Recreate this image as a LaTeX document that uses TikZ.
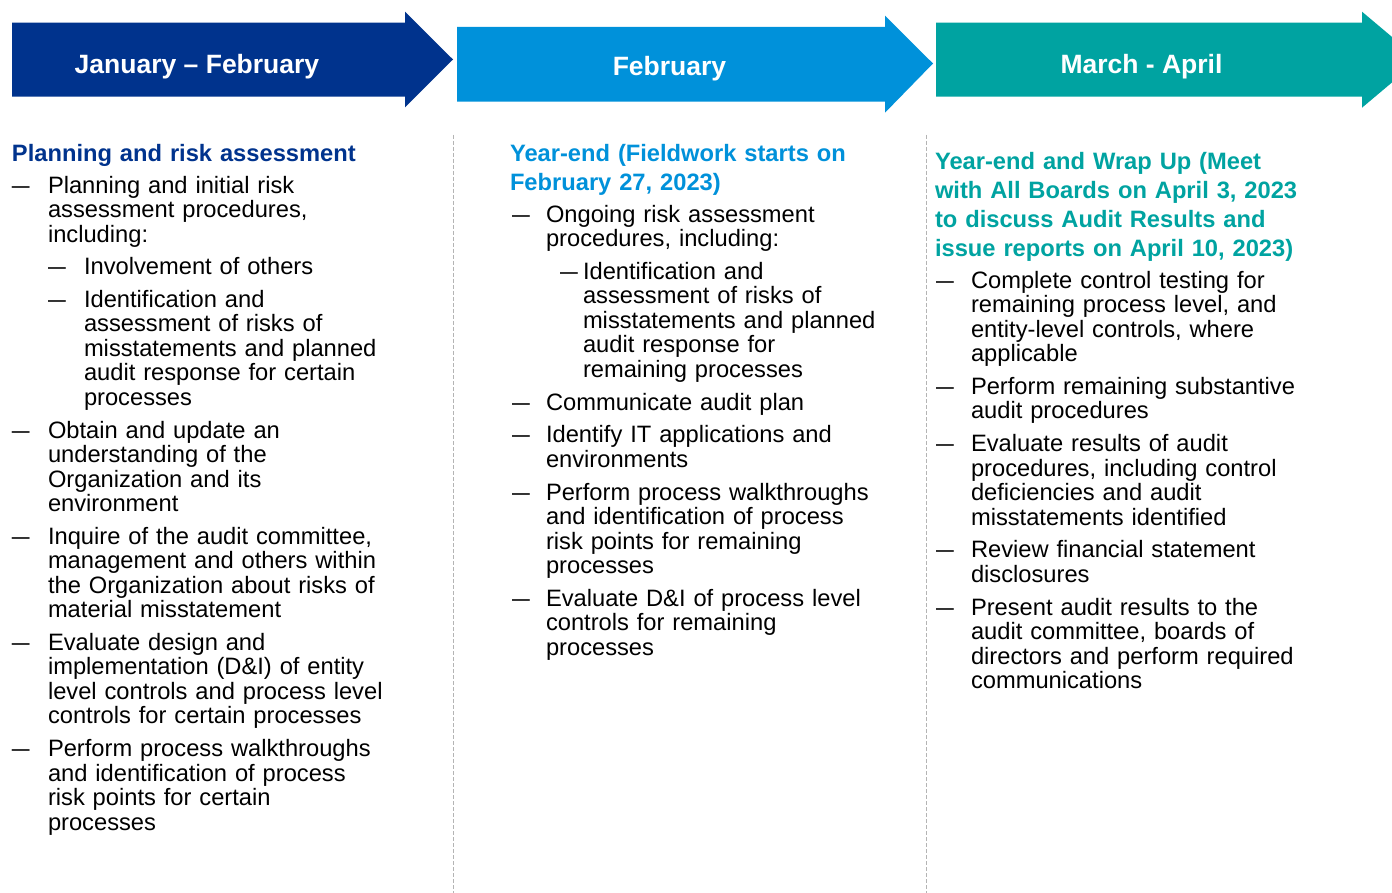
\documentclass[tikz,border=0pt]{standalone}
\usepackage{fontspec}
\setmainfont{Liberation Sans}
\definecolor{kdark}{HTML}{00338D}
\definecolor{kblue}{HTML}{0091DA}
\definecolor{kteal}{HTML}{00A3A1}
\definecolor{sepgray}{HTML}{B4B4B4}
\tikzset{
  body/.style={anchor=base west, inner sep=0pt, outer sep=0pt, text width=#1, align=left,
    font=\fontsize{23.7}{24.5}\selectfont, text=black},
  body/.default=420pt,
  head/.style={anchor=base west, inner sep=0pt, outer sep=0pt, text width=440pt, align=left,
    font=\fontsize{23.7}{28.8}\selectfont\bfseries},
  bul/.style={anchor=base west, inner sep=0pt, outer sep=0pt, font=\fontsize{23.7}{24.5}\selectfont},
  arrtext/.style={anchor=base, inner sep=0pt, text=white, font=\fontsize{26.5}{30}\selectfont\bfseries},
  sep/.style={draw=sepgray, line width=1.2pt, dash pattern=on 4pt off 2pt},
}
\newcommand{\dsh}{\scalebox{0.75}[1]{—}}
\begin{document}
\begin{tikzpicture}[x=1pt,y=-1pt]
\clip (0,0) rectangle (1392,893);
\fill[white] (0,0) rectangle (1392,893);
% arrows
\fill[kdark] (12,22.7) -- (405,22.7) -- (405,11.7) -- (453,59.5) -- (405,107.3) -- (405,96.7) -- (12,96.7) -- cycle;
\fill[kblue] (457,27) -- (885,27) -- (885,15.7) -- (933,63.5) -- (885,112.7) -- (885,101.7) -- (457,101.7) -- cycle;
\fill[kteal] (936,22.7) -- (1362,22.7) -- (1362,11.7) -- (1419,59.7) -- (1362,107.7) -- (1362,96.7) -- (936,96.7) -- cycle;
\node[arrtext] (t1) at (197,74) {January – February};
\node[arrtext] (t2) at (669.5,76) {February};
\node[arrtext] (t3) at (1141.5,74) {March - April};
% separators
\coordinate (s1a) at (453.5,135);
\coordinate (s1b) at (453.5,893);
\coordinate (s2a) at (926.5,135);
\coordinate (s2b) at (926.5,893);
\draw[sep] (s1a) -- (s1b);
\draw[sep] (s2a) -- (s2b);
% column 1
\node[head, text=kdark] (h1) at (12,161.5) {Planning and risk assessment};
\node[bul] (b1a) at (12,193.3) {\dsh};
\node[body] (i1a) at (48,193.3) {Planning and initial risk\\assessment procedures,\\including:};
\node[bul] (b1as1) at (48,275) {\dsh};
\node[body] (i1as1) at (84,275) {Involvement of others};
\node[bul] (b1as2) at (48,307.3) {\dsh};
\node[body] (i1as2) at (84,307.3) {Identification and\\assessment of risks of\\misstatements and planned\\audit response for certain\\processes};
\node[bul] (b1b) at (12,438) {\dsh};
\node[body] (i1b) at (48,438) {Obtain and update an\\understanding of the\\Organization and its\\environment};
\node[bul] (b1c) at (12,544.2) {\dsh};
\node[body] (i1c) at (48,544.2) {Inquire of the audit committee,\\management and others within\\the Organization about risks of\\material misstatement};
\node[bul] (b1d) at (12,650.4) {\dsh};
\node[body] (i1d) at (48,650.4) {Evaluate design and\\implementation (D\&I) of entity\\level controls and process level\\controls for certain processes};
\node[bul] (b1e) at (12,756.6) {\dsh};
\node[body] (i1e) at (48,756.6) {Perform process walkthroughs\\and identification of process\\risk points for certain\\processes};
% column 2
\node[head, text=kblue] (h2) at (510,161.5) {Year-end (Fieldwork starts on\\February 27, 2023)};
\node[bul] (b2a) at (512,222.3) {\dsh};
\node[body] (i2a) at (546,222.3) {Ongoing risk assessment\\procedures, including:};
\node[bul] (b2as1) at (560,279.5) {\dsh};
\node[body] (i2as1) at (583,279.5) {Identification and\\assessment of risks of\\misstatements and planned\\audit response for\\remaining processes};
\node[bul] (b2b) at (512,410.2) {\dsh};
\node[body] (i2b) at (546,410.2) {Communicate audit plan};
\node[bul] (b2c) at (512,442.9) {\dsh};
\node[body] (i2c) at (546,442.9) {Identify IT applications and\\environments};
\node[bul] (b2d) at (512,500.1) {\dsh};
\node[body] (i2d) at (546,500.1) {Perform process walkthroughs\\and identification of process\\risk points for remaining\\processes};
\node[bul] (b2e) at (512,606.3) {\dsh};
\node[body] (i2e) at (546,606.3) {Evaluate D\&I of process level\\controls for remaining\\processes};
% column 3
\node[head, text=kteal] (h3) at (935,170) {Year-end and Wrap Up (Meet\\with All Boards on April 3, 2023\\to discuss Audit Results and\\issue reports on April 10, 2023)};
\node[bul] (b3a) at (936,288.2) {\dsh};
\node[body] (i3a) at (971,288.2) {Complete control testing for\\remaining process level, and\\entity-level controls, where\\applicable};
\node[bul] (b3b) at (936,394.4) {\dsh};
\node[body] (i3b) at (971,394.4) {Perform remaining substantive\\audit procedures};
\node[bul] (b3c) at (936,451.6) {\dsh};
\node[body] (i3c) at (971,451.6) {Evaluate results of audit\\procedures, including control\\deficiencies and audit\\misstatements identified};
\node[bul] (b3d) at (936,557.8) {\dsh};
\node[body] (i3d) at (971,557.8) {Review financial statement\\disclosures};
\node[bul] (b3e) at (936,615) {\dsh};
\node[body] (i3e) at (971,615) {Present audit results to the\\audit committee, boards of\\directors and perform required\\communications};
\end{tikzpicture}
\end{document}
